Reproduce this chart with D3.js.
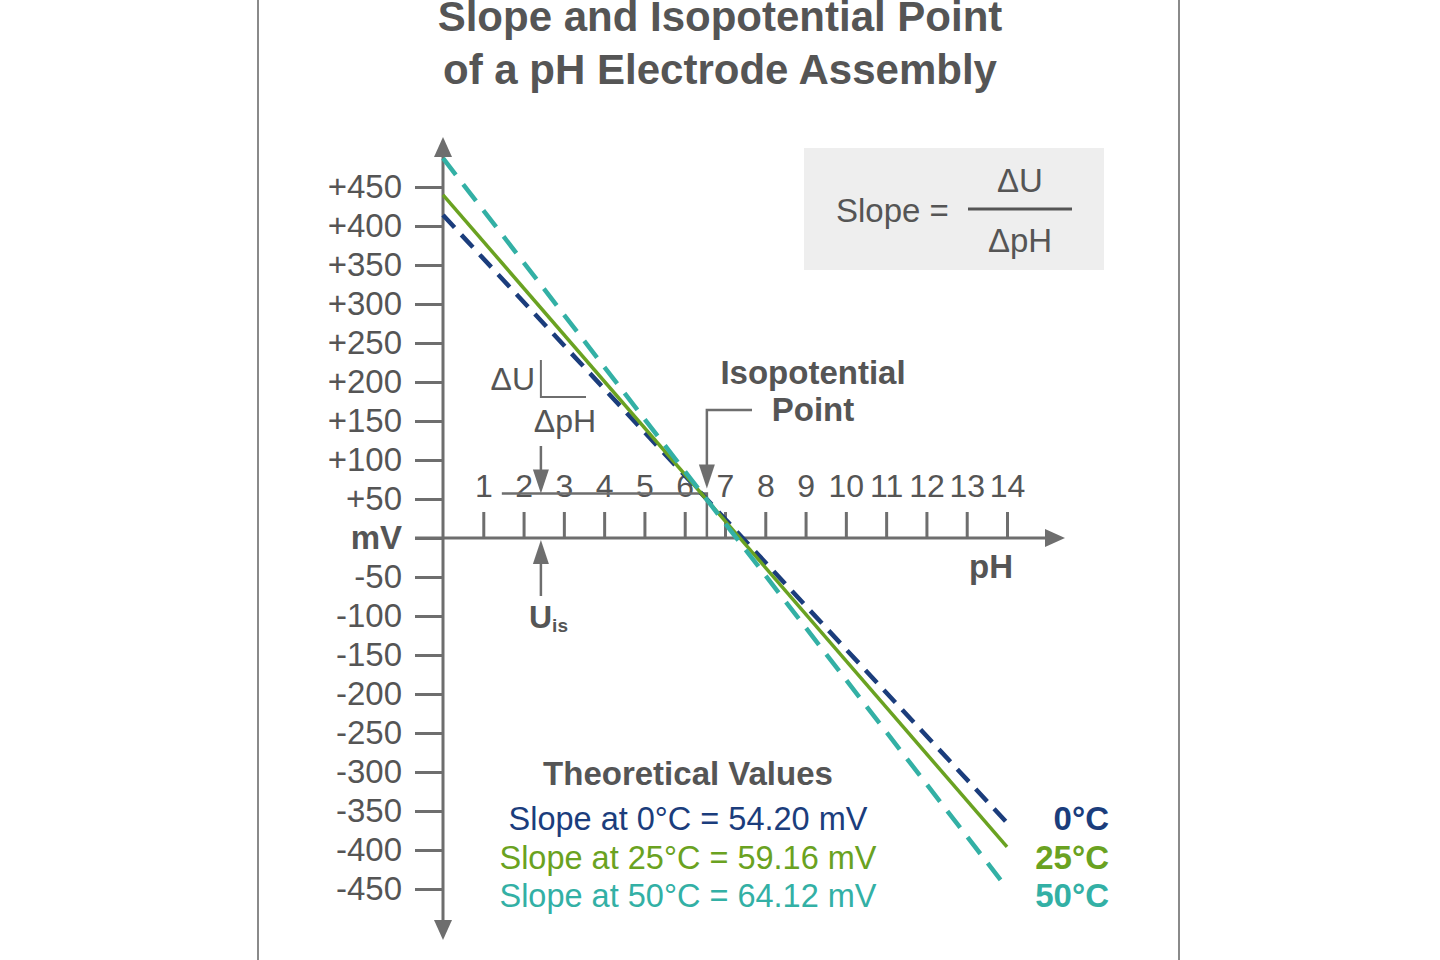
<!DOCTYPE html>
<html>
<head>
<meta charset="utf-8">
<script src="https://cdn.jsdelivr.net/npm/d3@7"></script>
<style>
  body { margin: 0; background: #fff; }
  text { font-family: "Liberation Sans", Arial, sans-serif; }
</style>
</head>
<body>
<script>
// Values.
var seriesNames = ["0°C", "25°C", "50°C"];
var slopeValues = ["54.20", "59.16", "64.12"];
var startMV = [414, 440, 487];      // mV at pH 0
var endMV = [-365, -396, -449];     // mV at pH 14
var pHTicks = [1, 2, 3, 4, 5, 6, 7, 8, 9, 10, 11, 12, 13, 14];
var mVTicks = [450, 400, 350, 300, 250, 200, 150, 100, 50, 0, -50, -100, -150, -200, -250, -300, -350, -400, -450];
var mVTickLabels = ["+450", "+400", "+350", "+300", "+250", "+200", "+150", "+100", "+50", "mV",
                    "-50", "-100", "-150", "-200", "-250", "-300", "-350", "-400", "-450"];
var isoPH = 6.55;     // isopotential point
var isoMV = 57;
var uisPH = 2.43;     // U_is marker
var isoLineStartPH = 1.46;

// Styles.
var colors = ["#1b3d7c", "#6aa221", "#33b0a5"];
var dashes = ["17,10", null, "21,12"];
var widths = [4.5, 3.5, 4.5];
var grey = "#6e6e6e";
var textGrey = "#555555";

var width = 1440, height = 960;

var svg = d3.select("body").append("svg")
            .attr("width", width)
            .attr("height", height);

// Scales.
var xScale = d3.scaleLinear().domain([0, 14]).range([443, 1007]);
var yScale = d3.scaleLinear().domain([-450, 450]).range([889, 187]);
var x0 = xScale(0), y0 = yScale(0);

// Frame lines left and right.
svg.append("line").attr("x1", 258).attr("x2", 258).attr("y1", 0).attr("y2", height)
   .attr("stroke", "#8a8a8a").attr("stroke-width", 2);
svg.append("line").attr("x1", 1179).attr("x2", 1179).attr("y1", 0).attr("y2", height)
   .attr("stroke", "#8a8a8a").attr("stroke-width", 2);

// Title.
svg.append("text")
   .attr("x", 720).attr("y", 31)
   .attr("text-anchor", "middle")
   .attr("font-size", 42).attr("font-weight", "bold")
   .attr("fill", textGrey)
   .text("Slope and Isopotential Point");
svg.append("text")
   .attr("x", 720).attr("y", 84)
   .attr("text-anchor", "middle")
   .attr("font-size", 42).attr("font-weight", "bold")
   .attr("fill", textGrey)
   .text("of a pH Electrode Assembly");

// Formula box.
svg.append("rect").attr("x", 804).attr("y", 148).attr("width", 300).attr("height", 122)
   .attr("fill", "#eeeeee");
svg.append("text").attr("x", 836).attr("y", 222).attr("font-size", 33).attr("fill", textGrey)
   .text("Slope =");
svg.append("line").attr("x1", 968).attr("x2", 1072).attr("y1", 209).attr("y2", 209)
   .attr("stroke", textGrey).attr("stroke-width", 3);
svg.append("text").attr("x", 1020).attr("y", 192).attr("text-anchor", "middle")
   .attr("font-size", 33).attr("fill", textGrey).text("ΔU");
svg.append("text").attr("x", 1020).attr("y", 252).attr("text-anchor", "middle")
   .attr("font-size", 33).attr("fill", textGrey).text("ΔpH");

// Y axis.
var yAxis = svg.append("g")
   .attr("class", "y_axis")
   .attr("transform", "translate(" + x0 + ",0)")
   .call(d3.axisLeft(yScale)
           .tickValues(mVTicks)
           .tickSize(28)
           .tickPadding(13)
           .tickFormat(function (d, i) { return mVTickLabels[i]; }));
yAxis.select(".domain").remove();
yAxis.selectAll("line").attr("stroke", grey).attr("stroke-width", 3);
yAxis.selectAll("text")
     .attr("font-family", "Liberation Sans, Arial, sans-serif")
     .attr("font-size", 33)
     .attr("fill", textGrey)
     .attr("font-weight", function (d) { return d === 0 ? "bold" : "normal"; });

// X axis (ticks point up, labels above).
var xAxis = svg.append("g")
   .attr("class", "x_axis")
   .attr("transform", "translate(0," + y0 + ")")
   .call(d3.axisTop(xScale)
           .tickValues(pHTicks)
           .tickSize(26)
           .tickPadding(15)
           .tickFormat(function (d) { return d; }));
xAxis.select(".domain").remove();
xAxis.selectAll("line").attr("stroke", grey).attr("stroke-width", 3);
xAxis.selectAll("text")
     .attr("font-family", "Liberation Sans, Arial, sans-serif")
     .attr("font-size", 32)
     .attr("fill", textGrey);

// Axis lines with arrow heads.
svg.append("line").attr("x1", x0).attr("x2", x0).attr("y1", 150).attr("y2", 928)
   .attr("stroke", grey).attr("stroke-width", 3);
svg.append("line").attr("x1", 415).attr("x2", 1052).attr("y1", y0).attr("y2", y0)
   .attr("stroke", grey).attr("stroke-width", 3);

function arrowHead (tx, ty, dir, len, half) {
    var pts;
    if (dir === "up") pts = [[tx, ty], [tx - half, ty + len], [tx + half, ty + len]];
    if (dir === "down") pts = [[tx, ty], [tx - half, ty - len], [tx + half, ty - len]];
    if (dir === "right") pts = [[tx, ty], [tx - len, ty - half], [tx - len, ty + half]];
    svg.append("path")
       .attr("d", "M" + pts.map(function (p) { return p.join(","); }).join("L") + "Z")
       .attr("fill", grey);
}
arrowHead(x0, 137, "up", 20, 9);
arrowHead(x0, 940, "down", 20, 9);
arrowHead(1065, y0, "right", 20, 9);

svg.append("text").attr("x", 1013).attr("y", 578).attr("text-anchor", "end")
   .attr("font-size", 33).attr("font-weight", "bold").attr("fill", textGrey).text("pH");

// Isopotential reference line.
var isoX = xScale(isoPH), isoY = yScale(isoMV);
svg.append("path")
   .attr("d", "M" + xScale(isoLineStartPH) + "," + isoY + "H" + isoX + "V" + y0)
   .attr("fill", "none").attr("stroke", grey).attr("stroke-width", 2.5);

// Isopotential point label and pointer.
svg.append("text").attr("x", 813).attr("y", 384).attr("text-anchor", "middle")
   .attr("font-size", 33).attr("font-weight", "bold").attr("fill", textGrey).text("Isopotential");
svg.append("text").attr("x", 813).attr("y", 421).attr("text-anchor", "middle")
   .attr("font-size", 33).attr("font-weight", "bold").attr("fill", textGrey).text("Point");
svg.append("path")
   .attr("d", "M752,410H" + isoX + "V470")
   .attr("fill", "none").attr("stroke", grey).attr("stroke-width", 2.5);
arrowHead(isoX, isoY - 5, "down", 24, 8);

// Delta U / delta pH mark.
var uisX = xScale(uisPH);
svg.append("text").attr("x", 535).attr("y", 390).attr("text-anchor", "end")
   .attr("font-size", 32).attr("fill", textGrey).text("ΔU");
svg.append("path").attr("d", "M" + uisX + ",360V397H586")
   .attr("fill", "none").attr("stroke", grey).attr("stroke-width", 2);
svg.append("text").attr("x", 565).attr("y", 432).attr("text-anchor", "middle")
   .attr("font-size", 32).attr("fill", textGrey).text("ΔpH");
svg.append("line").attr("x1", uisX).attr("x2", uisX).attr("y1", 446).attr("y2", 475)
   .attr("stroke", grey).attr("stroke-width", 2.5);
arrowHead(uisX, isoY, "down", 24, 8);

// U_is marker.
svg.append("line").attr("x1", uisX).attr("x2", uisX).attr("y1", 596).attr("y2", 560)
   .attr("stroke", grey).attr("stroke-width", 2.5);
arrowHead(uisX, y0 + 2, "up", 24, 8);
var uis = svg.append("text").attr("x", 529).attr("y", 628)
   .attr("font-size", 32).attr("font-weight", "bold").attr("fill", textGrey);
uis.append("tspan").text("U");
uis.append("tspan").attr("font-size", 19).attr("dy", 4).text("is");

// Electrode lines, one per temperature.
var series = seriesNames.map(function (name, i) {
    return { name: name, values: [{ pH: 0, mV: startMV[i] }, { pH: 14, mV: endMV[i] }] };
});
var line = d3.line()
             .x(function (d) { return xScale(d.pH); })
             .y(function (d) { return yScale(d.mV); });

svg.append("g").attr("class", "lines")
   .selectAll("path")
   .data(series)
   .enter().append("path")
   .attr("d", function (d) { return line(d.values); })
   .attr("fill", "none")
   .attr("stroke", function (d, i) { return colors[i]; })
   .attr("stroke-width", function (d, i) { return widths[i]; })
   .attr("stroke-dasharray", function (d, i) { return dashes[i]; });

// Theoretical values legend.
svg.append("text").attr("x", 688).attr("y", 785).attr("text-anchor", "middle")
   .attr("font-size", 33).attr("font-weight", "bold").attr("fill", textGrey)
   .text("Theoretical Values");

svg.append("g").selectAll("text")
   .data(series)
   .enter().append("text")
   .attr("x", 688)
   .attr("y", function (d, i) { return 830 + i * 38.5; })
   .attr("text-anchor", "middle")
   .attr("font-size", 32.5)
   .attr("fill", function (d, i) { return colors[i]; })
   .text(function (d, i) { return "Slope at " + d.name + " = " + slopeValues[i] + " mV"; });

svg.append("g").selectAll("text")
   .data(series)
   .enter().append("text")
   .attr("x", 1109)
   .attr("y", function (d, i) { return 830 + i * 38.5; })
   .attr("text-anchor", "end")
   .attr("font-size", 33)
   .attr("font-weight", "bold")
   .attr("fill", function (d, i) { return colors[i]; })
   .text(function (d) { return d.name; });
</script>
</body>
</html>
